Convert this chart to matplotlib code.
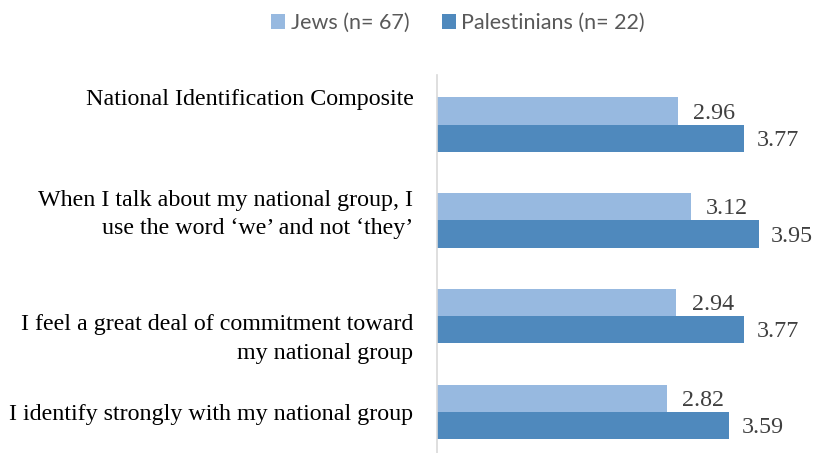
import matplotlib
matplotlib.use("Agg")
import matplotlib.pyplot as plt
import matplotlib.transforms as mtransforms
import numpy as np

categories = [
    "National Identification Composite",
    "When I talk about my national group, I\nuse the word \u2018we\u2019 and not \u2018they\u2019",
    "I feel a great deal of commitment toward\nmy national group",
    "I identify strongly with my national group",
]
jews = [2.96, 3.12, 2.94, 2.82]
palestinians = [3.77, 3.95, 3.77, 3.59]
series_names = ["Jews (n= 67)", "Palestinians (n= 22)"]

c_light = "#97B9E0"
c_dark = "#4F89BD"

fig = plt.figure(figsize=(8.14, 4.53), dpi=100)
ax = fig.add_axes([437 / 814, 0.0, 350 / 814, (453 - 75) / 453])

n = len(categories)
pos = np.arange(n)[::-1].astype(float)  # top category highest
h = 0.285
b1 = ax.barh(pos + h / 2, jews, height=h, color=c_light, label=series_names[0])
b2 = ax.barh(pos - h / 2, palestinians, height=h, color=c_dark, label=series_names[1])

ax.set_xlim(0, 4.3)
ax.set_ylim(-0.43, 3.52)

for spine in ["top", "right", "bottom"]:
    ax.spines[spine].set_visible(False)
ax.spines["left"].set_color("#D9D9D9")
ax.spines["left"].set_linewidth(1.2)
ax.set_xticks([])

serif = ["Liberation Serif", "DejaVu Serif"]
ax.set_yticks(pos)
ax.set_yticklabels(categories, fontsize=17.3, family=serif, color="#000000",
                   linespacing=1.45)
ax.tick_params(axis="y", length=0, pad=17)

# Individual vertical offsets of category labels (points), as in reference
offsets = [20, 8.5, -12, 0]
for lab, off in zip(ax.get_yticklabels(), offsets):
    lab.set_transform(lab.get_transform() + mtransforms.ScaledTranslation(0, off / 72, fig.dpi_scale_trans))

for bars, vals, gap in [(b1, jews, 11), (b2, palestinians, 9)]:
    for rect, v in zip(bars, vals):
        ax.annotate(f"{v:.2f}", xy=(v, rect.get_y() + rect.get_height() / 2),
                    xytext=(gap, -1.5), textcoords="offset points",
                    ha="left", va="center", fontsize=17.3, family=serif,
                    color="#404040")

leg = fig.legend(handles=[b1, b2], labels=series_names, loc="center",
                 bbox_to_anchor=(458 / 814, 1 - 23 / 453), ncol=2, frameon=False,
                 prop={"family": ["Lato", "DejaVu Sans"], "size": 15.5},
                 handlelength=0.65, handleheight=0.65, handletextpad=0.25,
                 columnspacing=1.5)
for t in leg.get_texts():
    t.set_color("#595959")

fig.savefig("out.png", dpi=100)
